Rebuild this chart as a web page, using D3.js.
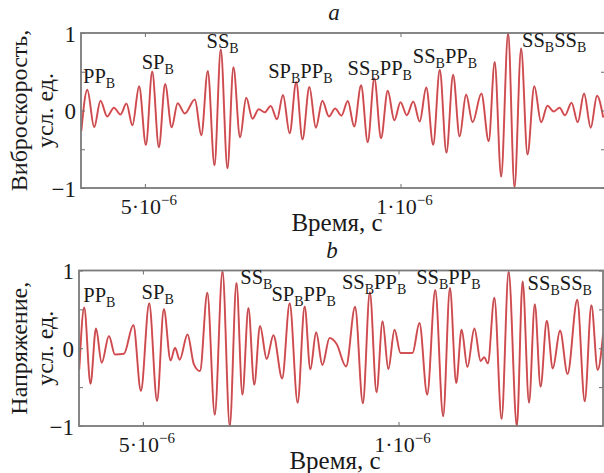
<!DOCTYPE html>
<html>
<head>
<meta charset="utf-8">
<script src="https://cdn.jsdelivr.net/npm/d3@7/dist/d3.min.js"></script>
<style>
  html, body { margin: 0; padding: 0; background: #fff; }
  svg { display: block; }
  text { font-family: "Liberation Serif", "DejaVu Serif", serif; fill: #1a1a1a; }
</style>
</head>
<body>
<svg id="chart" width="604" height="473"></svg>
<script>
// Time axis in microseconds; amplitudes in relative units.
// Panel a: vibration velocity, extrema of the trace (time, value).
const timeA = [0.3756,0.3873,0.4008,0.4131,0.4262,0.4395,0.4521,0.4639,0.4756,0.4887,
  0.5020,0.5143,0.5273,0.5396,0.5523,0.5641,0.5781,0.5977,0.6104,0.6230,
  0.6361,0.6484,0.6615,0.6732,0.6861,0.6982,0.7104,0.7227,0.7344,0.7461,
  0.7584,0.7701,0.7832,0.7959,0.8082,0.8217,0.8344,0.8471,0.8600,0.8721,
  0.8844,0.8969,0.9094,0.9229,0.9359,0.9488,0.9619,0.9750,0.9879,1.0000,
  1.0123,1.0250,1.0375,1.0504,1.0639,1.0768,1.0898,1.1029,1.1156,1.1283,
  1.1410,1.1582,1.1725,1.1842,1.1969,1.2105,1.2230,1.2359,1.2484,1.2617,
  1.2750,1.2875,1.2994,1.3111,1.3217,1.3346,1.3467,1.3590,1.3721,1.3844,1.3965];
const velocityA = [-0.268,0.267,-0.215,0.125,-0.077,0.037,-0.052,0.089,-0.191,0.314,
  -0.445,0.503,-0.475,0.342,-0.217,0.094,-0.039,0.142,-0.319,0.511,
  -0.706,0.787,-0.745,0.557,-0.346,0.164,-0.106,0.015,-0.023,0.058,
  -0.114,0.200,-0.294,0.368,-0.374,0.303,-0.222,0.125,-0.077,0.026,
  -0.067,0.123,-0.206,0.326,-0.410,0.417,-0.357,0.255,-0.126,0.106,
  -0.061,0.116,-0.142,0.297,-0.443,0.525,-0.545,0.461,-0.335,0.206,
  -0.152,0.219,-0.396,0.626,-0.854,1.000,-0.987,0.800,-0.568,0.314,
  -0.152,0.062,-0.013,0.036,-0.062,0.101,-0.152,0.219,-0.222,0.191,-0.090];

// Panel b: voltage, extrema of the trace (time, value).
const timeB = [0.3756,0.3852,0.3975,0.4082,0.4194,0.4336,0.4453,0.4629,0.4814,0.4961,
  0.5123,0.5277,0.5410,0.5541,0.5629,0.5719,0.5873,0.5996,0.6117,0.6260,
  0.6406,0.6557,0.6699,0.6830,0.6947,0.7064,0.7178,0.7291,0.7422,0.7553,
  0.7725,0.7871,0.8027,0.8164,0.8275,0.8389,0.8510,0.8652,0.8789,0.8975,
  0.9150,0.9303,0.9439,0.9570,0.9688,0.9801,0.9922,1.0039,1.0273,1.0410,
  1.0561,1.0719,1.0873,1.1006,1.1129,1.1234,1.1348,1.1484,1.1607,1.1676,
  1.1748,1.1875,1.2016,1.2154,1.2315,1.2428,1.2553,1.2666,1.2779,1.2900,
  1.3018,1.3160,1.3307,1.3496,1.3643,1.3773,1.3896,1.4004];
const voltageB = [-0.271,0.524,-0.457,0.254,-0.186,0.158,-0.080,-0.070,0.300,-0.550,
  0.579,-0.678,0.505,-0.158,0.007,-0.147,0.177,-0.203,-0.293,0.714,
  -0.855,0.990,-1.000,0.839,-0.597,0.518,-0.469,0.286,-0.138,0.168,
  -0.389,0.578,-0.700,0.537,-0.271,0.205,-0.215,0.132,0.055,-0.235,
  0.534,-0.708,0.721,-0.565,0.347,-0.267,0.239,-0.061,-0.061,0.325,
  -0.597,0.749,-0.875,0.775,-0.447,0.239,-0.241,0.254,-0.164,-0.115,
  -0.194,0.650,-0.910,0.983,-1.000,0.859,-0.700,0.565,-0.495,0.353,
  -0.260,0.228,-0.331,0.624,-0.682,0.554,-0.280,0.196];

// Wave-group annotations: [main, sub, main, sub] with anchor time and level.
const notesA = [
  { parts: ["PP","B"], t: 0.3789, v: 0.355 },
  { parts: ["SP","B"], t: 0.4936, v: 0.535 },
  { parts: ["SS","B"], t: 0.6205, v: 0.806 },
  { parts: ["SP","B","PP","B"], t: 0.7412, v: 0.419 },
  { parts: ["SS","B","PP","B"], t: 0.8965, v: 0.462 },
  { parts: ["SS","B","PP","B"], t: 1.0240, v: 0.609 },
  { parts: ["SS","B","SS","B"], t: 1.2377, v: 0.815 }
];
const notesB = [
  { parts: ["PP","B"], t: 0.3834, v: 0.599 },
  { parts: ["SP","B"], t: 0.4975, v: 0.630 },
  { parts: ["SS","B"], t: 0.6904, v: 0.820 },
  { parts: ["SP","B","PP","B"], t: 0.7514, v: 0.608 },
  { parts: ["SS","B","PP","B"], t: 0.8893, v: 0.766 },
  { parts: ["SS","B","PP","B"], t: 1.0346, v: 0.826 },
  { parts: ["SS","B","SS","B"], t: 1.2525, v: 0.749 }
];

const timeDomain = [0.375, 1.4];
const yTicks = [-1, -0.5, 0, 0.5, 1];
const yTickLabels = { "-1": "\u22121", "0": "0", "1": "1" };
const xTicks = [0.5, 1.0];
const xTickMantissa = ["5\u00b710", "1\u00b710"];
const xTickExponent = ["\u22126", "\u22126"];
const xTitle = "Время, с";

const panels = [
  { id: "a", title: "a", ylab: ["Виброскорость,", "усл. ед."], t: timeA, v: velocityA, notes: notesA,
    left: 81, right: 605, top: 33, bottom: 188 },
  { id: "b", title: "b", ylab: ["Напряжение,", "усл. ед."], t: timeB, v: voltageB, notes: notesB,
    left: 79, right: 603, top: 270.5, bottom: 426 }
];

const svg = d3.select("#chart");
svg.append("rect").attr("width", 604).attr("height", 473).attr("fill", "#fff");

panels.forEach(p => {
  const x = d3.scaleLinear().domain(timeDomain).range([p.left, p.right]);
  const y = d3.scaleLinear().domain([-1, 1]).range([p.bottom, p.top]);
  const g = svg.append("g").attr("class", "panel-" + p.id);

  g.append("clipPath").attr("id", "clip-" + p.id)
    .append("rect")
    .attr("x", p.left).attr("y", p.top - 2)
    .attr("width", p.right - p.left).attr("height", p.bottom - p.top + 4);

  // signal trace: red stroke with a darker core
  const pts = p.t.map((t, i) => [t, p.v[i]]);
  const line = d3.line().x(d => x(d[0])).y(d => y(d[1])).curve(d3.curveMonotoneX);
  g.append("path").datum(pts)
    .attr("clip-path", "url(#clip-" + p.id + ")")
    .attr("fill", "none").attr("stroke", "#f03a40").attr("stroke-width", 2).attr("stroke-opacity", 0.85)
    .attr("d", line);
  g.append("path").datum(pts)
    .attr("clip-path", "url(#clip-" + p.id + ")")
    .attr("fill", "none").attr("stroke", "#9a4a4c").attr("stroke-width", 0.7)
    .attr("d", line);

  // axes with inward ticks
  const axisStyle = sel => {
    sel.select(".domain").remove();
    sel.selectAll(".tick line").attr("stroke", "#6e6e6e").attr("stroke-width", 1);
  };
  g.append("g").attr("transform", `translate(${p.left},0)`)
    .call(d3.axisLeft(y).tickValues(yTicks).tickSizeInner(-4).tickSizeOuter(0)
      .tickFormat(d => yTickLabels[String(d)] || ""))
    .call(axisStyle)
    .call(s => s.selectAll(".tick text").attr("x", -5).attr("dy", "0.36em")
      .style("font-size", "23px").style("font-family", "Liberation Serif").attr("fill", "#1a1a1a"));
  g.append("g").attr("transform", `translate(${p.right},0)`)
    .call(d3.axisRight(y).tickValues(yTicks).tickSizeInner(-4).tickSizeOuter(0).tickFormat(""))
    .call(axisStyle);
  g.append("g").attr("transform", `translate(0,${p.bottom})`)
    .call(d3.axisBottom(x).tickValues(xTicks).tickSizeInner(-4).tickSizeOuter(0).tickFormat(""))
    .call(axisStyle);
  g.append("g").attr("transform", `translate(0,${p.top})`)
    .call(d3.axisTop(x).tickValues(xTicks).tickSizeInner(-4).tickSizeOuter(0).tickFormat(""))
    .call(axisStyle);

  // frame
  g.append("rect")
    .attr("x", p.left).attr("y", p.top)
    .attr("width", p.right - p.left).attr("height", p.bottom - p.top)
    .attr("fill", "none").attr("stroke", "#7a7a7a").attr("stroke-width", 1.8);

  // x tick labels with superscript exponent
  xTicks.forEach((tv, i) => {
    const tx = g.append("text")
      .attr("x", x(tv) + 4).attr("y", p.bottom + 26)
      .attr("text-anchor", "middle").style("font-size", "22px");
    tx.append("tspan").text(xTickMantissa[i]);
    tx.append("tspan").attr("dy", -9).style("font-size", "15px").text(xTickExponent[i]);
  });

  // x axis title
  g.append("text")
    .attr("x", (p.left + p.right) / 2 - 6).attr("y", p.bottom + 42.5)
    .attr("text-anchor", "middle").style("font-size", "25px")
    .text(xTitle);

  // panel letter
  g.append("text")
    .attr("x", (p.left + p.right) / 2 - 9).attr("y", p.top - 13)
    .attr("text-anchor", "middle").style("font-size", "23px").style("font-style", "italic")
    .text(p.title);

  // y axis title, two lines
  const cy = (p.top + p.bottom) / 2;
  p.ylab.forEach((s, i) => {
    g.append("text")
      .attr("transform", `translate(${27 + i * 26},${cy}) rotate(-90)`)
      .attr("text-anchor", "middle").style("font-size", "24px")
      .text(s);
  });

  // wave-group labels
  p.notes.forEach(n => {
    const tx = g.append("text").attr("x", x(n.t)).attr("y", y(n.v)).style("font-size", "20.5px");
    n.parts.forEach((s, k) => {
      if (k % 2 === 0) {
        tx.append("tspan").attr("dy", k === 0 ? 0 : -5).text(s);
      } else {
        tx.append("tspan").attr("dy", 5).style("font-size", "14px").text(s);
      }
    });
  });
});
</script>
</body>
</html>
